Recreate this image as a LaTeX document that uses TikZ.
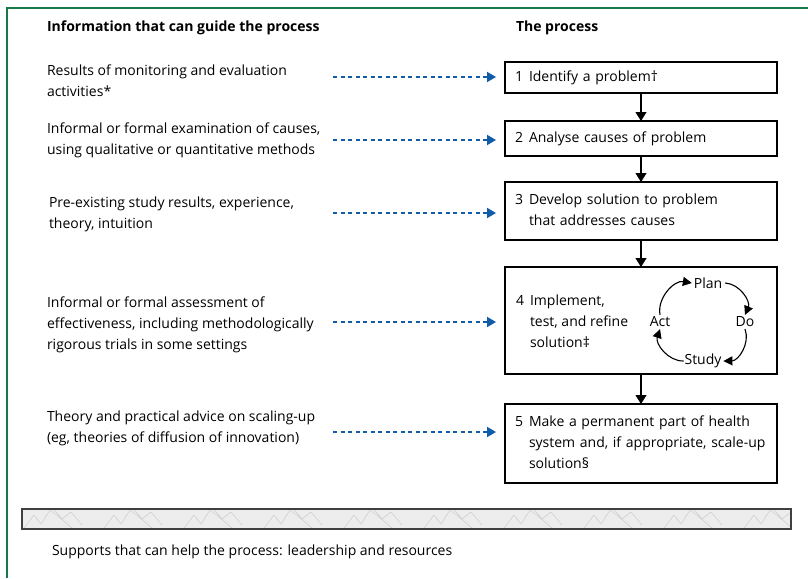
\documentclass[tikz,border=0pt]{standalone}
\usepackage{fontspec}
\setmainfont{Open Sans}
\usetikzlibrary{arrows.meta}
\definecolor{framegreen}{RGB}{22,122,72}
\definecolor{dotblue}{RGB}{16,92,168}

\begin{document}
\begin{tikzpicture}[x=1pt, y=1pt, every node/.style={inner sep=0pt, outer sep=0pt, align=left, font=\fontsize{14}{21}\selectfont}]
	\tikzset{ box/.style = {draw, line width=1.2pt, anchor=north west, minimum width=272pt, text width=252pt, inner xsep=10pt} }
	\tikzset{ info/.style = {anchor=west} }
	\tikzset{ head/.style = {anchor=west, font=\fontsize{14}{16}\bfseries} }
	\tikzset{ guide/.style = {dotblue, line width=1.8pt, dash pattern=on 4pt off 3.5pt, -{Triangle[length=9pt, width=10pt]}} }
	\tikzset{ flow/.style = {line width=1.2pt, -{Triangle[length=9pt, width=11pt]}} }
	\tikzset{ cycle/.style = {line width=1.1pt, -{Triangle[length=9pt, width=9pt]}} }
	\useasboundingbox (0,0) rectangle (808,-578);
	% frame
	\draw[framegreen, line width=1.5pt] (7,-578) -- (7,-8) -- (808,-8);
	% headings
	\node[head] (hinfo) at (47,-28) {Information that can guide the process};
	\node[head] (hproc) at (516,-28) {The process};
	% the process
	\node[box, minimum height=31pt] (b1) at (505,-62) {1\hspace{6pt}Identify a problem\textdagger};
	\node[box, minimum height=35pt] (b2) at (505,-121) {2\hspace{6pt}Analyse causes of problem};
	\node[box, minimum height=58pt] (b3) at (505,-182) {\begin{tabular}{@{}l@{\hspace{6pt}}l@{}}3&Develop solution to problem\\&that addresses causes\end{tabular}};
	\node[box, minimum height=107pt] (b4) at (505,-267) {};
	\node[box, minimum height=79pt] (b5) at (505,-404) {\begin{tabular}{@{}l@{\hspace{6pt}}l@{}}5&Make a permanent part of health\\&system and, if appropriate, scale-up\\&solution\textsection\end{tabular}};
	\node[anchor=west] (t4) at (516,-322) {\begin{tabular}{@{}l@{\hspace{6pt}}l@{}}4&Implement,\\&test, and refine\\&solution\textdaggerdbl\end{tabular}};
	% plan-do-study-act
	\node (plan) at (708,-283) {Plan};
	\node (do) at (745,-322) {Do};
	\node (study) at (703,-361) {Study};
	\node (act) at (660,-322) {Act};
	\draw[cycle] ([xshift=3pt]plan.east) to[bend left=55] ([yshift=2pt]do.north);
	\draw[cycle] ([yshift=-2pt]do.south) to[bend left=55] ([xshift=2pt]study.east);
	\draw[cycle] ([xshift=-1pt]study.west) to[bend left=55] ([yshift=-2pt]act.south);
	\draw[cycle] ([yshift=2pt]act.north) to[bend left=55] ([xshift=-2pt]plan.west);
	\draw[flow] (b1) -- (b2);
	\draw[flow] (b2) -- (b3);
	\draw[flow] (b3) -- (b4);
	\draw[flow] (b4) -- (b5);
	% information
	\node[info] (i1) at (47,-81) {Results of monitoring and evaluation\\activities*};
	\node[info] (i2) at (47,-140) {Informal or formal examination of causes,\\using qualitative or quantitative methods};
	\node[info] (i3) at (49,-214) {Pre-existing study results, experience,\\theory, intuition};
	\node[info] (i4) at (47,-325) {Informal or formal assessment of\\effectiveness, including methodologically\\rigorous trials in some settings};
	\node[info] (i5) at (47,-428) {Theory and practical advice on scaling-up\\(eg, theories of diffusion of innovation)};
	\coordinate (s1) at (333,-77);
	\coordinate (s2) at (333,-140);
	\coordinate (s3) at (333,-213);
	\coordinate (s4) at (333,-322);
	\coordinate (s5) at (333,-432);
	\foreach \n in {1,...,5}
		\draw[guide] (s\n) -- ([xshift=-9pt]b\n.west |- s\n);
	% supports
	\begin{scope}
		\clip (22,-509) rectangle (791,-529);
		\fill[gray!14] (22,-509) rectangle (791,-529);
		\foreach \x in {0,80,...,720}
			\draw[gray!40, line width=0.5pt] (22+\x,-531) -- ++(12,16) -- ++(7,-9) -- ++(9,14) -- ++(8,-6) -- ++(14,-12) (52+\x,-507) -- ++(10,-12) -- ++(9,7) -- ++(11,-13);
	\end{scope}
	\draw[line width=1.5pt, black!75] (22,-509) rectangle (791,-529);
	\node[info] (sup) at (52,-552) {Supports that can help the process: leadership and resources};
\end{tikzpicture}
\end{document}
